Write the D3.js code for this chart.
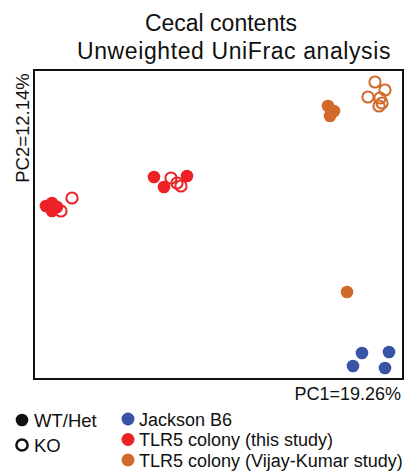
<!DOCTYPE html>
<html>
<head>
<meta charset="utf-8">
<script src="https://cdn.jsdelivr.net/npm/d3@7"></script>
<style>
  body { margin: 0; background: #fff; }
  text { font-family: "Liberation Sans", Arial, sans-serif; fill: #111; }
</style>
</head>
<body>
<div id="chart"></div>
<script>
// groups and genotypes
const groups = ["Jackson B6", "TLR5 colony (this study)", "TLR5 colony (Vijay-Kumar study)"];
const groupColors = ["#3953a6", "#ec2227", "#d0692a"];
const genotypes = ["WT/Het", "KO"];

// PCoA coordinates: [PC1, PC2, group index, genotype index]
const jacksonPts = [
  [0.1435, -0.1285, 0, 0], [0.1345, -0.1415, 0, 0],
  [0.1705, -0.1275, 0, 0], [0.1665, -0.1435, 0, 0]
];
const tlr5ThisPts = [
  [-0.1725, 0.0185, 1, 0], [-0.1665, 0.0215, 1, 0], [-0.1615, 0.0175, 1, 0], [-0.1665, 0.0135, 1, 0],
  [-0.1465, 0.0265, 1, 1], [-0.1575, 0.0135, 1, 1],
  [-0.0645, 0.0475, 1, 0], [-0.0545, 0.0375, 1, 0], [-0.0315, 0.0485, 1, 0],
  [-0.0475, 0.0465, 1, 1], [-0.0415, 0.0415, 1, 1], [-0.0375, 0.0385, 1, 1]
];
const tlr5VKPts = [
  [0.1095, 0.1185, 2, 0], [0.1155, 0.1135, 2, 0], [0.1115, 0.1085, 2, 0],
  [0.1565, 0.1425, 2, 1], [0.1665, 0.1345, 2, 1], [0.1495, 0.1275, 2, 1],
  [0.1615, 0.1265, 2, 1], [0.1635, 0.1215, 2, 1], [0.1605, 0.1185, 2, 1],
  [0.1285, -0.0675, 2, 0]
];
const pc1Domain = [-0.1845, 0.1845];
const pc2Domain = [-0.1545, 0.1545];

const width = 408, height = 471;
const box = { left: 34, right: 403, top: 70, bottom: 379 };

const svg = d3.select("#chart").append("svg")
  .attr("width", width)
  .attr("height", height);

const x = d3.scaleLinear().domain(pc1Domain).range([box.left, box.right]);
const y = d3.scaleLinear().domain(pc2Domain).range([box.bottom, box.top]);

// title
svg.append("text")
  .attr("x", 221).attr("y", 31)
  .attr("text-anchor", "middle")
  .style("font-size", "23px")
  .text("Cecal contents");
svg.append("text")
  .attr("x", 234).attr("y", 59)
  .attr("text-anchor", "middle")
  .style("font-size", "23px")
  .style("letter-spacing", "0.6px")
  .text("Unweighted UniFrac analysis");

// points
const points = jacksonPts.concat(tlr5ThisPts, tlr5VKPts);
svg.append("g")
  .selectAll("circle")
  .data(points)
  .enter()
  .append("circle")
  .attr("cx", (d) => x(d[0]))
  .attr("cy", (d) => y(d[1]))
  .attr("r", (d) => (d[3] === 0 ? 6.3 : 5.6))
  .attr("fill", (d) => (d[3] === 0 ? groupColors[d[2]] : "none"))
  .attr("stroke", (d) => (d[3] === 0 ? "none" : groupColors[d[2]]))
  .attr("stroke-width", 2);

// frame
svg.append("rect")
  .attr("x", box.left).attr("y", box.top)
  .attr("width", box.right - box.left)
  .attr("height", box.bottom - box.top)
  .attr("fill", "none")
  .attr("stroke", "#111")
  .attr("stroke-width", 2);

// axis labels
svg.append("text")
  .attr("x", 401).attr("y", 400)
  .attr("text-anchor", "end")
  .style("font-size", "18px")
  .text("PC1=19.26%");
svg.append("text")
  .attr("transform", "translate(29, 128) rotate(-90)")
  .attr("text-anchor", "middle")
  .style("font-size", "18.5px")
  .text("PC2=12.14%");

// genotype legend
const geno = svg.append("g");
genotypes.forEach((g, i) => {
  const cy = 420 + i * 25;
  geno.append("circle")
    .attr("cx", 22).attr("cy", cy)
    .attr("r", i === 0 ? 6.3 : 5.6)
    .attr("fill", i === 0 ? "#111" : "none")
    .attr("stroke", i === 0 ? "none" : "#111")
    .attr("stroke-width", 2.5);
  geno.append("text")
    .attr("x", 34).attr("y", cy + 6.5)
    .style("font-size", "18.5px")
    .text(g);
});

// group legend
const leg = svg.append("g");
groups.forEach((g, i) => {
  const cy = 419 + i * 20.5;
  leg.append("circle")
    .attr("cx", 128).attr("cy", cy)
    .attr("r", 6.5)
    .attr("fill", groupColors[i]);
  leg.append("text")
    .attr("x", 139).attr("y", cy + 6.5)
    .style("font-size", "18px")
    .text(g);
});
</script>
</body>
</html>
